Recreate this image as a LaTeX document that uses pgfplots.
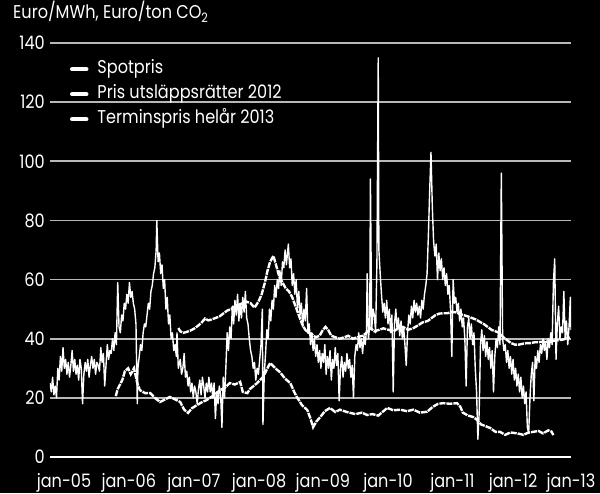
\documentclass[border=0pt]{standalone}
\usepackage{fontspec}
\setmainfont{Poppins}[FakeStretch=0.87]
\usepackage{pgfplots}
\usepackage{pgfplotstable}
\pgfplotsset{compat=1.18}

\newcommand\lbl{\fontsize{18.5}{22}\selectfont}
\definecolor{gridgray}{HTML}{B8B8B8}

% Spotpris (decimal year, Euro/MWh)
\pgfplotstableread{
x y
2005.00 25
2005.02 22
2005.04 27
2005.06 21
2005.08 24
2005.10 20
2005.12 30
2005.14 26
2005.16 34
2005.18 29
2005.20 37
2005.22 30
2005.24 33
2005.26 28
2005.28 32
2005.30 27
2005.32 31
2005.34 36
2005.36 29
2005.38 33
2005.40 28
2005.42 31
2005.44 26
2005.46 33
2005.48 30
2005.50 18
2005.52 28
2005.54 32
2005.56 29
2005.58 33
2005.60 27
2005.62 31
2005.64 34
2005.66 30
2005.68 33
2005.70 28
2005.72 32
2005.74 31
2005.76 29
2005.78 37
2005.80 32
2005.82 35
2005.84 24
2005.86 31
2005.88 38
2005.90 33
2005.92 36
2005.94 35
2005.96 40
2005.98 36
2006.00 42
2006.02 38
2006.04 59
2006.06 44
2006.08 42
2006.10 48
2006.12 46
2006.14 52
2006.16 50
2006.18 55
2006.20 52
2006.22 59
2006.24 54
2006.26 56
2006.28 52
2006.30 50
2006.32 45
2006.34 18
2006.35 30
2006.37 34
2006.39 38
2006.41 36
2006.43 42
2006.45 45
2006.47 44
2006.49 48
2006.51 52
2006.53 50
2006.55 56
2006.57 58
2006.59 62
2006.61 64
2006.63 70
2006.64 80
2006.66 66
2006.68 69
2006.70 62
2006.72 65
2006.74 57
2006.76 60
2006.78 50
2006.80 54
2006.82 45
2006.84 48
2006.86 40
2006.88 42
2006.90 36
2006.92 38
2006.94 34
2006.95 42
2006.97 30
2007.00 33
2007.02 28
2007.04 30
2007.06 35
2007.08 27
2007.10 29
2007.12 24
2007.14 27
2007.16 22
2007.18 25
2007.20 20
2007.22 24
2007.24 22
2007.26 18
2007.28 23
2007.30 26
2007.32 21
2007.34 27
2007.36 24
2007.38 20
2007.40 25
2007.42 22
2007.44 27
2007.46 22
2007.48 25
2007.50 20
2007.52 25
2007.54 13
2007.56 22
2007.58 18
2007.60 24
2007.62 21
2007.64 10
2007.66 27
2007.68 20
2007.70 30
2007.72 42
2007.74 36
2007.76 44
2007.78 40
2007.80 51
2007.82 45
2007.84 53
2007.86 48
2007.88 55
2007.90 46
2007.92 52
2007.94 47
2007.96 54
2007.98 49
2008.00 56
2008.02 47
2008.04 45
2008.06 40
2008.08 36
2008.10 34
2008.12 30
2008.14 32
2008.16 26
2008.18 30
2008.20 28
2008.22 33
2008.24 38
2008.26 50
2008.27 11
2008.29 28
2008.31 35
2008.33 43
2008.35 40
2008.37 50
2008.39 46
2008.41 53
2008.43 50
2008.45 58
2008.47 54
2008.49 60
2008.51 57
2008.53 63
2008.55 58
2008.57 66
2008.59 64
2008.61 70
2008.63 65
2008.66 72
2008.68 64
2008.70 67
2008.72 58
2008.74 62
2008.76 55
2008.78 60
2008.80 50
2008.82 56
2008.84 48
2008.86 52
2008.88 44
2008.90 50
2008.92 46
2008.94 57
2008.96 42
2008.98 45
2009.00 38
2009.02 42
2009.04 36
2009.06 40
2009.08 34
2009.10 38
2009.12 32
2009.14 36
2009.16 30
2009.18 35
2009.20 32
2009.22 38
2009.24 28
2009.26 34
2009.28 30
2009.30 36
2009.32 26
2009.34 33
2009.36 30
2009.38 37
2009.40 31
2009.42 35
2009.44 19
2009.46 30
2009.48 34
2009.50 27
2009.52 32
2009.54 29
2009.56 35
2009.58 30
2009.60 33
2009.62 27
2009.64 31
2009.66 20
2009.68 34
2009.70 38
2009.72 36
2009.74 42
2009.76 37
2009.78 40
2009.80 35
2009.82 41
2009.84 38
2009.86 43
2009.87 62
2009.89 40
2009.91 45
2009.92 94
2009.94 43
2009.96 50
2009.98 48
2010.00 42
2010.02 66
2010.04 135
2010.05 70
2010.07 62
2010.09 55
2010.11 49
2010.13 52
2010.15 47
2010.17 53
2010.19 45
2010.21 50
2010.23 42
2010.25 48
2010.27 22
2010.29 45
2010.31 50
2010.33 43
2010.35 47
2010.37 41
2010.39 46
2010.41 40
2010.43 44
2010.45 38
2010.47 31
2010.49 42
2010.51 48
2010.53 45
2010.55 51
2010.57 47
2010.59 53
2010.61 49
2010.63 52
2010.65 48
2010.67 51
2010.69 47
2010.71 53
2010.73 50
2010.75 55
2010.77 58
2010.79 62
2010.81 75
2010.83 90
2010.85 103
2010.87 85
2010.89 73
2010.91 68
2010.93 72
2010.95 60
2010.97 69
2010.99 63
2011.01 67
2011.03 60
2011.05 64
2011.07 58
2011.09 62
2011.11 55
2011.13 58
2011.15 50
2011.17 34
2011.19 60
2011.21 52
2011.23 54
2011.25 49
2011.27 52
2011.29 46
2011.31 50
2011.33 44
2011.35 47
2011.37 40
2011.39 24
2011.41 44
2011.43 47
2011.45 40
2011.47 45
2011.49 38
2011.51 42
2011.53 30
2011.55 22
2011.57 6
2011.59 15
2011.61 38
2011.63 43
2011.65 36
2011.67 41
2011.69 34
2011.71 39
2011.73 33
2011.75 37
2011.77 30
2011.79 36
2011.81 22
2011.83 34
2011.85 40
2011.87 37
2011.89 44
2011.91 38
2011.93 96
2011.95 40
2011.97 36
2011.99 38
2012.01 32
2012.03 36
2012.05 30
2012.07 34
2012.09 28
2012.11 33
2012.13 26
2012.15 30
2012.17 24
2012.19 28
2012.21 22
2012.23 27
2012.25 20
2012.27 24
2012.29 18
2012.31 22
2012.33 10
2012.35 8
2012.37 20
2012.39 28
2012.41 32
2012.43 19
2012.45 34
2012.47 30
2012.49 36
2012.51 32
2012.53 38
2012.55 35
2012.57 40
2012.59 36
2012.61 39
2012.63 33
2012.65 40
2012.67 37
2012.69 42
2012.71 38
2012.73 59
2012.75 67
2012.77 33
2012.79 45
2012.81 51
2012.83 40
2012.85 44
2012.87 42
2012.89 56
2012.91 40
2012.93 46
2012.95 38
2012.97 44
2012.99 54
2013.00 43
}\spotdata

% Pris utslappsratter 2012 (Euro/ton CO2)
\pgfplotstableread{
x y
2006.01 20.6
2006.04 23
2006.11 26
2006.15 29
2006.20 30
2006.24 28
2006.29 30
2006.34 25
2006.38 22.6
2006.46 21.6
2006.54 21.6
2006.61 20
2006.69 18.6
2006.77 19.5
2006.84 20.3
2006.92 19.5
2007.00 18.6
2007.06 16
2007.12 14.9
2007.18 16.5
2007.26 17.6
2007.33 18.5
2007.41 19.3
2007.49 20.5
2007.55 21.5
2007.61 22.6
2007.69 23.5
2007.76 25
2007.84 24.5
2007.92 25.4
2007.96 22
2008.03 21.6
2008.07 23
2008.18 25
2008.27 27
2008.38 31.8
2008.46 30
2008.53 28.7
2008.61 26.5
2008.69 25
2008.75 22
2008.79 20.3
2008.87 17.5
2008.95 15.9
2009.00 13
2009.04 10.1
2009.09 12
2009.15 13.5
2009.22 15.5
2009.30 16.6
2009.38 15.2
2009.45 16
2009.56 15.2
2009.69 14.5
2009.79 15
2009.87 14.2
2009.95 14.5
2010.04 14
2010.12 15.5
2010.18 16.6
2010.27 15.8
2010.38 16
2010.48 15.5
2010.58 16
2010.68 15
2010.79 15.3
2010.88 17
2010.96 18
2011.04 18.2
2011.14 18
2011.25 18.2
2011.30 17
2011.34 15
2011.42 14
2011.50 13.5
2011.56 12.5
2011.62 11
2011.68 10.5
2011.76 9.8
2011.84 8.5
2011.91 8.5
2011.99 7.5
2012.07 8.3
2012.17 8
2012.27 7.5
2012.34 8.2
2012.42 8.5
2012.50 8.8
2012.57 8
2012.65 9
2012.70 8.6
2012.73 7.4
}\eudata

% Terminspris helar 2013 (Euro/MWh)
\pgfplotstableread{
x y
2006.97 43.6
2007.00 42.5
2007.05 42
2007.10 42.3
2007.16 42.8
2007.22 43.5
2007.28 44.5
2007.33 45.5
2007.38 46.8
2007.43 46.2
2007.48 46.5
2007.54 47
2007.60 47.5
2007.66 48.5
2007.72 49.5
2007.78 50
2007.84 51
2007.90 51.5
2007.96 52
2008.02 52.5
2008.08 52
2008.14 50.5
2008.20 52.5
2008.25 55
2008.30 59
2008.34 63
2008.38 66
2008.43 68
2008.47 65
2008.52 61
2008.57 59
2008.62 57
2008.67 56
2008.72 54
2008.77 51
2008.82 48
2008.87 45
2008.92 43
2008.97 42
2009.02 41.5
2009.08 40.5
2009.14 41
2009.19 43
2009.23 44
2009.27 43
2009.32 41
2009.38 40.5
2009.45 40
2009.52 40.5
2009.58 41
2009.65 40
2009.72 40.5
2009.80 41
2009.86 42
2009.92 43.6
2009.98 42.5
2010.05 43
2010.12 43.5
2010.20 43
2010.28 42.5
2010.35 43.6
2010.42 44
2010.50 43
2010.58 43.6
2010.65 44.5
2010.72 45.5
2010.80 46
2010.86 47
2010.92 48
2010.98 48.5
2011.04 48.6
2011.10 48.6
2011.16 49
2011.22 49
2011.28 48.5
2011.35 48
2011.42 47.5
2011.48 47
2011.54 46.5
2011.60 45.7
2011.66 45
2011.72 44
2011.78 43
2011.84 42.5
2011.90 42
2011.96 40.5
2012.02 39.5
2012.08 38.5
2012.14 38
2012.20 38
2012.26 38.3
2012.32 38.5
2012.38 38.5
2012.44 38.8
2012.50 38.8
2012.56 39
2012.62 39
2012.68 39
2012.74 39.3
2012.80 39.5
2012.86 39.6
2012.92 40
2012.98 40.5
}\termdata

\begin{document}
\begin{tikzpicture}
\fill[black] (0,0) rectangle (600pt,493pt);
\useasboundingbox (0,0) rectangle (600pt,493pt);
\begin{axis}[
    at={(50pt,36pt)}, anchor=south west,
    scale only axis, width=521pt, height=414pt,
    xmin=2005, xmax=2013, ymin=0, ymax=140,
    axis line style={draw=none},
    major tick length=0pt,
    ytick={20,40,...,140},
    extra y ticks={0},
    extra y tick style={grid style={white, line width=2.7pt}},
    ymajorgrids,
    grid style={gridgray, line width=1.6pt},
    xtick={2005.215,2006.21,2007.21,2008.21,2009.19,2010.19,2011.18,2012.11,2013.0},
    xticklabels={jan-05,jan-06,jan-07,jan-08,jan-09,jan-10,jan-11,jan-12,jan-13},
    /pgf/number format/assume math mode=true,
    tick label style={text=white, font=\lbl},
    yticklabel style={anchor=east, inner sep=0pt, xshift=-5pt},
    xticklabel style={anchor=base, inner sep=0pt, yshift=-30pt},
    title={Euro/MWh, Euro/ton CO\textsubscript{2}},
    title style={text=white, font=\lbl, at={(axis description cs:-0.071,1)},
        anchor=base west, inner sep=0pt, yshift=18pt},
    legend style={draw=none, fill=none, text=white, font=\lbl,
        at={(axis description cs:0.038,0.958)}, anchor=north west,
        row sep=8pt, inner sep=0pt,
        nodes={inner sep=0pt, text height=13pt, text depth=4pt}},
    legend cell align=left,
    legend image code/.code={\draw[white, line width=4.5pt, line cap=round, solid] (2pt,0pt) -- (16pt,0pt);},
]
\addplot[white, line width=1.4pt, line join=round] table[x=x, y=y] {\spotdata};
\addlegendentry{\hspace{9pt}Spotpris}
\addplot[white, line width=2.4pt, dash pattern=on 6pt off 1pt] table[x=x, y=y] {\eudata};
\addlegendentry{\hspace{9pt}Pris utsläppsrätter 2012}
\addplot[white, line width=2.4pt, dash pattern=on 6pt off 1pt] table[x=x, y=y] {\termdata};
\addlegendentry{\hspace{9pt}Terminspris helår 2013}
\end{axis}
\end{tikzpicture}
\end{document}
